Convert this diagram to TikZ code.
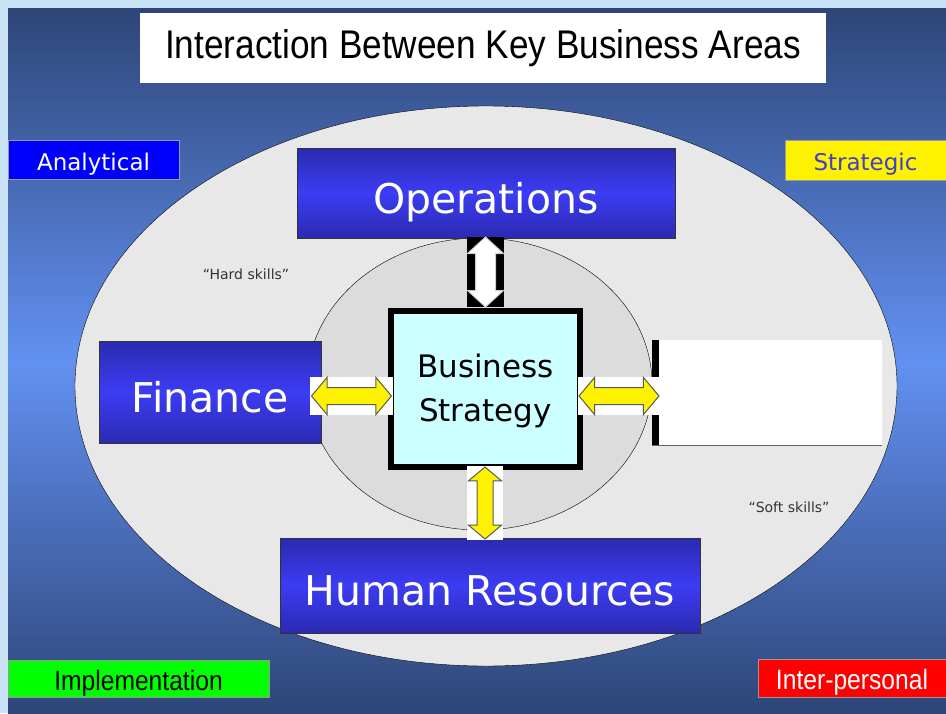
\documentclass[tikz,border=0pt]{standalone}
\usepackage{fontspec}
\setmainfont{DejaVu Sans}
\newfontfamily\narrowfont{Liberation Sans}[FakeStretch=0.88]
\usetikzlibrary{shapes,shapes.arrows}
\usetikzlibrary{positioning}
\usetikzlibrary{calc}
\definecolor{bgdark}{HTML}{2E4577}
\definecolor{bglight}{HTML}{6291F2}
\definecolor{edgeblue}{HTML}{C9E1F5}
\definecolor{areablue}{HTML}{3C3CF4}
\definecolor{areadark}{HTML}{2A2AB0}
\definecolor{bscyan}{HTML}{CCFFFF}
\definecolor{outergray}{HTML}{E8E8E8}
\definecolor{innergray}{HTML}{DCDCDC}
\definecolor{strtext}{HTML}{4040C8}
\tikzstyle{area}=[rectangle,top color=areadark,bottom color=areadark,middle color=areablue,draw=black!80,line width=1pt,inner sep=0pt,text=white,text height=40pt,text depth=0pt,font=\fontsize{41}{45}\selectfont]
\tikzstyle{tag}=[rectangle,draw=black!40,inner sep=0pt,text height=21pt,text depth=0pt,font=\fontsize{23}{26}\selectfont]
\tikzstyle{widetag}=[tag,text height=23pt,font=\fontsize{28}{30}\selectfont\narrowfont]
\tikzstyle{arrowbg}=[rectangle,inner sep=0pt]
\tikzstyle{bigarrow}=[double arrow,fill=yellow,draw=black!65,line width=1pt,inner sep=0pt,double arrow tip angle=100]
\tikzstyle{skill}=[font=\fontsize{14}{16}\selectfont,text=black!80]

\begin{document}
\begin{tikzpicture}[x=1pt,y=-1pt]

  \useasboundingbox (0,0) rectangle (946,713);
  \fill[edgeblue] (0,0) rectangle (946,713);
  \shade[top color=bgdark,bottom color=bgdark,middle color=bglight] (8,8) rectangle (946,713);

  % the two rings
  \node[ellipse,draw=black,fill=outergray,minimum width=822,minimum height=560] (outer) at (486,386) {};
  \node[ellipse,draw=black,fill=innergray,minimum width=345,minimum height=292] (inner) at (479.5,384) {};

  \node[skill] (hard) at (246,274) {“Hard skills”};
  \node[skill] (soft) at (789,507) {“Soft skills”};

  % business areas
  \foreach \pos/\name/\w/\h/\txt in {{(486,193)/ops/378/90/Operations}, {(210,392)/fin/222/102/Finance}, {(490,585.5)/hr/420/95/Human Resources}}
      \node[area,minimum width=\w,minimum height=\h] (\name) at \pos {\txt};

  \node[rectangle,fill=white,minimum width=230,minimum height=105,inner sep=0pt] (mkt) at (767,392.5) {};
  \fill[black] (mkt.north west) rectangle ++(7,105);
  \draw[black!60] (mkt.south west) -- (mkt.south east);

  \node[rectangle,draw=black,line width=6pt,fill=bscyan,minimum width=189,minimum height=156,align=center,
        font=\fontsize{31}{44}\selectfont] (bs) at (485.5,388.5) {\rule{0pt}{29pt}Business\\Strategy};

  % arrow backgrounds
  \node[arrowbg,fill=black,minimum width=37,minimum height=70] (upbg) at (485.5,272) {};
  \node[arrowbg,fill=white,minimum width=36,minimum height=74] (lowbg) at (485,503) {};
  \node[arrowbg,fill=white,minimum width=83,minimum height=38] (leftbg) at (351.5,396) {};
  \node[arrowbg,fill=white,minimum width=82,minimum height=38] (rightbg) at (619,396) {};

  % double arrows
  \node[bigarrow,fill=white,draw=white!80!black,rotate=90,minimum height=70,inner ysep=9.5,double arrow head extend=8,double arrow tip angle=95] (up) at (upbg) {};
  \node[bigarrow,rotate=90,minimum height=72,inner ysep=7.5,double arrow head extend=8.5] (low) at (lowbg) {};
  \foreach \name in {left,right}
      \node[bigarrow,minimum height=80,inner ysep=8,double arrow head extend=10] (\name) at (\name bg) {};

  % corner tags
  \node[tag,fill=blue,text=white,minimum width=171,minimum height=39] (ana) at (93.5,159.5) {Analytical};
  \node[tag,fill=yellow,text=strtext,minimum width=161,minimum height=40] (str) at (865.5,160) {Strategic};
  \node[widetag,fill=green,text=black,minimum width=261,minimum height=37] (imp) at (138.5,678.5) {Implementation};
  \node[widetag,fill=red,text=white,minimum width=188,minimum height=38] (inter) at (852,678) {Inter-personal};

  \node[fill=white,minimum width=686,minimum height=70,inner sep=0pt,font=\narrowfont\fontsize{40}{44}\selectfont] (title) at (483,48) {Interaction Between Key Business Areas};

\end{tikzpicture}
\end{document}
